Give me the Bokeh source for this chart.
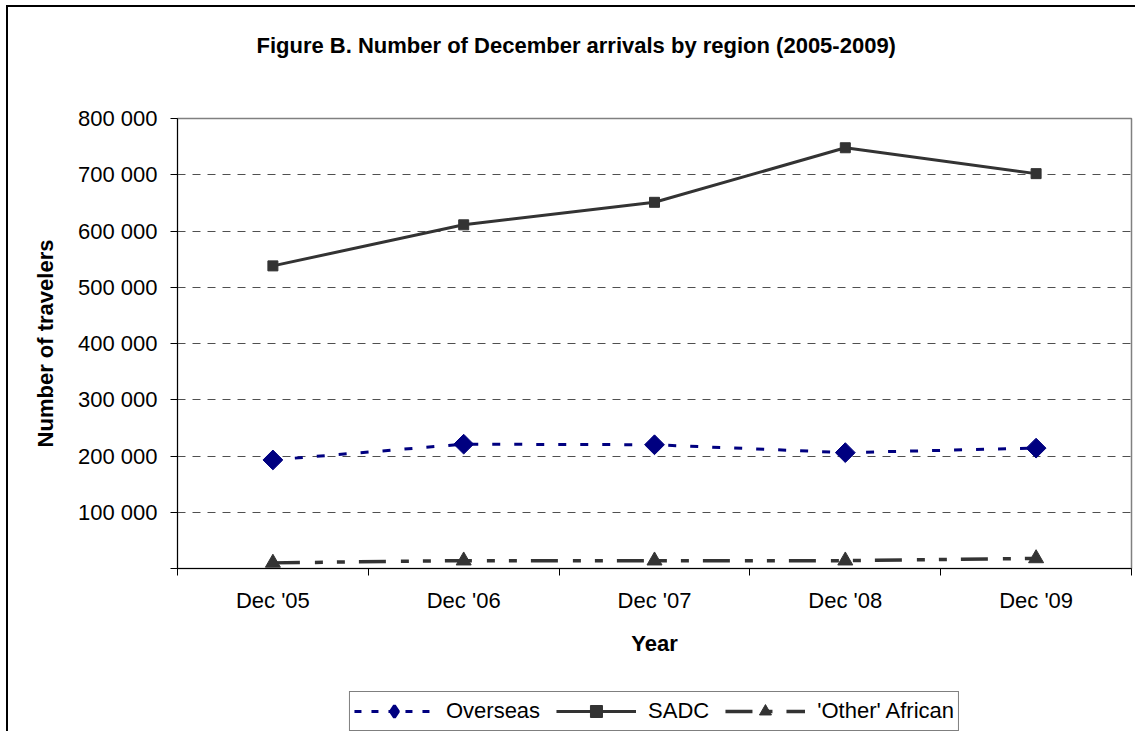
from bokeh.plotting import figure
from bokeh.models import Range1d, FixedTicker, Legend, LegendItem, Title
from bokeh.layouts import column
from bokeh.embed import file_html
from bokeh.resources import INLINE

# ---- data ----
categories = ["Dec '05", "Dec '06", "Dec '07", "Dec '08", "Dec '09"]
overseas = [193000, 221000, 220000, 206000, 214000]
sadc = [538000, 611000, 651000, 748000, 702000]
other_african = [10000, 14000, 14000, 14000, 18000]
y_ticks = [0, 100000, 200000, 300000, 400000, 500000, 600000, 700000, 800000]
y_tick_labels = ["", "100 000", "200 000", "300 000", "400 000", "500 000",
                 "600 000", "700 000", "800 000"]
series_names = ["Overseas", "SADC", "'Other' African"]

FONT = "Liberation Sans"
FS = "22px"
NAVY = "#000080"
DARK = "#333333"

x = [i + 0.5 for i in range(len(categories))]
boundaries = [float(i) for i in range(len(categories) + 1)]

p = figure(width=1127, height=684,
           x_range=Range1d(0, len(categories)), y_range=Range1d(0, 800000),
           output_backend="svg", toolbar_location=None,
           min_border_left=169, min_border_right=4,
           min_border_top=111, min_border_bottom=123)
p.background_fill_color = "white"
p.border_fill_color = "white"
p.outline_line_color = "#808080"
p.outline_line_width = 1.5

# spacer between title and plot area
p.add_layout(Title(text=" ", text_font_size="10px", standoff=41), "above")

# title
p.title.text = "Figure B. Number of December arrivals by region (2005-2009)"
p.title.text_font = FONT
p.title.text_font_size = FS
p.title.text_font_style = "bold"
p.title.text_color = "black"
p.title.align = "left"
p.title.offset = 79
p.title.standoff = 14

# y axis
ya = p.yaxis[0]
ya.ticker = FixedTicker(ticks=y_ticks)
ya.major_label_overrides = {t: l for t, l in zip(y_ticks, y_tick_labels)}
ya.major_label_text_font = FONT
ya.major_label_text_font_size = FS
ya.major_label_text_color = "black"
ya.major_tick_out = 7
ya.major_tick_in = 0
ya.minor_tick_out = 0
ya.minor_tick_in = 0
ya.major_label_standoff = 13
ya.axis_line_color = "black"
ya.major_tick_line_color = "black"
ya.axis_label = "Number of travelers"
ya.axis_label_text_font = FONT
ya.axis_label_text_font_size = FS
ya.axis_label_text_font_style = "bold"
ya.axis_label_text_color = "black"
ya.axis_label_standoff = 17

# x axis
xa = p.xaxis[0]
xa.ticker = FixedTicker(ticks=x, minor_ticks=boundaries)
xa.major_label_overrides = {t: l for t, l in zip(x, categories)}
xa.major_label_text_font = FONT
xa.major_label_text_font_size = FS
xa.major_label_text_color = "black"
xa.major_tick_out = 0
xa.major_tick_in = 0
xa.minor_tick_out = 7
xa.minor_tick_in = 0
xa.minor_tick_line_color = "black"
xa.major_label_standoff = 12
xa.axis_line_color = "black"
xa.axis_label = "Year"
xa.axis_label_text_font = FONT
xa.axis_label_text_font_size = FS
xa.axis_label_text_font_style = "bold"
xa.axis_label_text_color = "black"
xa.axis_label_standoff = 15

# grid
p.xgrid.visible = False
p.ygrid.ticker = FixedTicker(ticks=y_ticks[1:-1])
p.ygrid.grid_line_color = "#505050"
p.ygrid.grid_line_dash = "8 7"
p.ygrid.grid_line_width = 1

# series
p.line(x, overseas, line_color=NAVY, line_width=3, line_dash="8 14")
p.scatter(x, overseas, marker="square", size=14, angle=0.7853981634,
          fill_color=NAVY, line_color=NAVY)
p.line(x, sadc, line_color=DARK, line_width=3)
p.scatter(x, sadc, marker="square", size=10, fill_color=DARK, line_color=DARK)
p.line(x, other_african, line_color=DARK, line_width=3.5,
       line_dash="27 15 8 14 8 14")
p.scatter(x, other_african, marker="triangle", size=15,
          fill_color=DARK, line_color=DARK)

# ---- legend strip (same series, drawn outside its visible range) ----
lf = figure(width=1127, height=40, x_range=Range1d(100, 101),
            y_range=Range1d(0, 1), x_axis_type=None, y_axis_type=None,
            output_backend="svg", toolbar_location=None,
            min_border_left=164, min_border_right=0,
            min_border_top=0, min_border_bottom=0)
lf.outline_line_color = None
lf.background_fill_color = "white"
lf.border_fill_color = "white"
a1 = lf.line(x, overseas, line_color=NAVY, line_width=3, line_dash="7 10")
b1 = lf.scatter(x, overseas, marker="diamond", size=12, line_width=3,
                fill_color=NAVY, line_color=NAVY)
a2 = lf.line(x, sadc, line_color=DARK, line_width=3)
b2 = lf.scatter(x, sadc, marker="square", size=10,
                fill_color=DARK, line_color=DARK)
a3 = lf.line(x, other_african, line_color=DARK, line_width=3.5,
             line_dash="27 12 8 14")
b3 = lf.scatter(x, other_african, marker="triangle", size=12,
                fill_color=DARK, line_color=DARK)

legend = Legend(items=[
    LegendItem(label=series_names[0], renderers=[a1, b1]),
    LegendItem(label=series_names[1], renderers=[a2, b2]),
    LegendItem(label=series_names[2], renderers=[a3, b3]),
], orientation="horizontal", location="center")
legend.label_text_font = FONT
legend.label_text_font_size = FS
legend.label_text_color = "black"
legend.glyph_width = 80
legend.glyph_height = 30
legend.label_standoff = 12
legend.spacing = 16
legend.padding = 4
legend.margin = 0
legend.border_line_color = "black"
legend.border_line_width = 1
legend.background_fill_color = "white"
lf.add_layout(legend, "center")

layout = column(p, lf)
layout.styles = {"border-left": "2px solid black", "border-top": "2px solid black",
                 "margin-left": "6px", "margin-top": "5px",
                 "background-color": "white"}

open("out.html", "w").write(file_html(layout, INLINE))
